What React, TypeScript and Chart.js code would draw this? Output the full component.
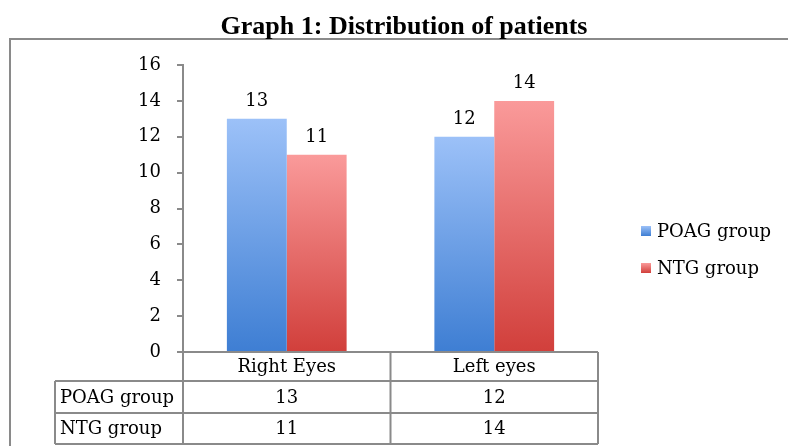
import React, { useEffect, useRef } from "react";
import { Chart, registerables } from "chart.js";

Chart.register(...registerables);

const titleText = "Graph 1: Distribution of patients";
const categories = ["Right Eyes", "Left eyes"];
const seriesLabels = ["POAG group", "NTG group"];
const poagValues = [13, 12];
const ntgValues = [11, 14];
const yTicks = [0, 2, 4, 6, 8, 10, 12, 14, 16];

const gradTop = ["#9cc1f8", "#fa9a9a"];
const gradBottom = ["#3e7ed3", "#d13f3b"];
const LINE = "#8a8a8a";
const FONT = "'DejaVu Serif', serif";

export default function App() {
  const ref = useRef<HTMLCanvasElement | null>(null);

  useEffect(() => {
    document.body.style.margin = "0";
    const canvas = ref.current;
    if (!canvas) return;

    const barGradient = (ctx: any, ds: number) => {
      const chart = ctx.chart;
      const ys = chart.scales?.y;
      if (!chart.chartArea || !ys || ctx.raw == null) return gradBottom[ds];
      const top = ys.getPixelForValue(ctx.raw);
      const base = ys.getPixelForValue(0);
      const g = chart.ctx.createLinearGradient(0, top, 0, base);
      g.addColorStop(0, gradTop[ds]);
      g.addColorStop(1, gradBottom[ds]);
      return g;
    };

    const decor = {
      id: "decor",
      beforeDraw(chart: any) {
        const c = chart.ctx;
        c.save();
        c.fillStyle = "#fff";
        c.fillRect(0, 0, chart.width, chart.height);
        c.strokeStyle = LINE;
        c.lineWidth = 2;
        c.beginPath();
        c.moveTo(10, chart.height + 2);
        c.lineTo(10, 39);
        c.lineTo(chart.width + 2, 39);
        c.stroke();
        c.fillStyle = "#000";
        c.font = "bold 26px 'Liberation Serif', serif";
        c.textAlign = "center";
        c.textBaseline = "alphabetic";
        c.fillText(titleText, 404, 34);
        c.restore();
      },
      afterDraw(chart: any) {
        const c = chart.ctx;
        const xs = chart.scales.x;
        const ys = chart.scales.y;
        const area = chart.chartArea;
        const n = categories.length;
        const step = (area.right - area.left) / n;
        const bounds: number[] = [];
        for (let i = 0; i <= n; i++) bounds.push(area.left + step * i);
        const y0 = ys.getPixelForValue(0);
        const rowH = [29, 32, 31];
        const r1 = y0 + rowH[0];
        const r2 = r1 + rowH[1];
        const r3 = r2 + rowH[2];
        const leftCol = 55;
        c.save();
        c.strokeStyle = LINE;
        c.lineWidth = 2;
        c.beginPath();
        c.moveTo(area.left, y0); c.lineTo(area.right, y0);
        [r1, r2, r3].forEach((yy) => { c.moveTo(leftCol, yy); c.lineTo(area.right, yy); });
        bounds.forEach((bx) => { c.moveTo(bx, y0); c.lineTo(bx, r3); });
        c.moveTo(leftCol, r1); c.lineTo(leftCol, r3);
        c.stroke();

        c.fillStyle = "#000";
        c.font = `18px ${FONT}`;
        c.textBaseline = "middle";
        c.textAlign = "center";
        const seriesVals = [poagValues, ntgValues];
        categories.forEach((cat, i) => {
          const cx = xs.getPixelForValue(i);
          c.fillText(cat, cx, (y0 + r1) / 2 + 1);
          c.fillText(String(seriesVals[0][i]), cx, (r1 + r2) / 2 + 1);
          c.fillText(String(seriesVals[1][i]), cx, (r2 + r3) / 2 + 1);
        });
        c.textAlign = "left";
        c.fillText(seriesLabels[0], leftCol + 5, (r1 + r2) / 2 + 1);
        c.fillText(seriesLabels[1], leftCol + 5, (r2 + r3) / 2 + 1);

        c.textAlign = "center";
        c.textBaseline = "alphabetic";
        chart.data.datasets.forEach((ds: any, di: number) => {
          const meta = chart.getDatasetMeta(di);
          meta.data.forEach((bar: any, i: number) => {
            c.fillText(String(ds.data[i]), bar.x, bar.y - 13);
          });
        });

        const legY = [231, 268];
        seriesLabels.forEach((lab, di) => {
          const sx = 641, sy = legY[di] - 5;
          const g = c.createLinearGradient(0, sy, 0, sy + 10);
          g.addColorStop(0, gradTop[di]);
          g.addColorStop(1, gradBottom[di]);
          c.fillStyle = g;
          c.fillRect(sx, sy, 10, 10);
          c.fillStyle = "#000";
          c.textAlign = "left";
          c.textBaseline = "middle";
          c.fillText(lab, 657, legY[di] + 1);
        });
        c.restore();
      },
    };

    const chart = new Chart(canvas, {
      type: "bar",
      data: {
        labels: categories,
        datasets: [
          { label: seriesLabels[0], data: poagValues, backgroundColor: (ctx: any) => barGradient(ctx, 0) },
          { label: seriesLabels[1], data: ntgValues, backgroundColor: (ctx: any) => barGradient(ctx, 1) },
        ],
      },
      options: {
        animation: false,
        responsive: false,
        devicePixelRatio: 1,
        layout: { padding: { top: 65, bottom: 94, left: 0, right: 190 } },
        plugins: {
          legend: { display: false },
          title: { display: false },
          tooltip: { enabled: false },
        },
        datasets: { bar: { categoryPercentage: 0.577, barPercentage: 1.0 } },
        scales: {
          x: { display: false },
          y: {
            min: 0,
            max: 16,
            afterFit: (s: any) => { s.width = 183; },
            afterBuildTicks: (s: any) => { s.ticks = yTicks.map((v) => ({ value: v })); },
            ticks: { font: { family: FONT, size: 18 }, color: "#000", padding: 16 },
            grid: { drawOnChartArea: false, drawTicks: true, tickLength: 6, color: LINE, lineWidth: 2 },
            border: { display: true, color: LINE, width: 2 },
          },
        },
      },
      plugins: [decor],
    });
    return () => chart.destroy();
  }, []);

  return (
    <div style={{ width: 788, height: 446 }}>
      <canvas ref={ref} width={788} height={446} style={{ display: "block" }} />
    </div>
  );
}
